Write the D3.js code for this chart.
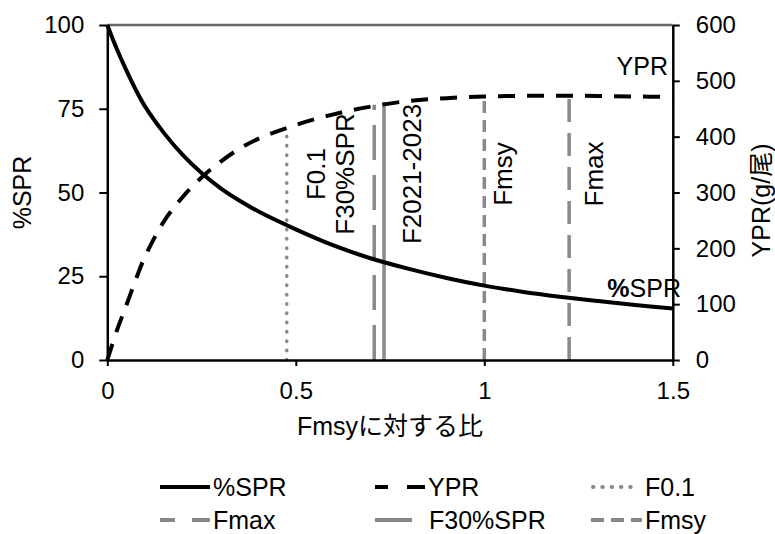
<!DOCTYPE html>
<html><head><meta charset="utf-8">
<script src="https://cdn.jsdelivr.net/npm/d3@7"></script>
<style>
body{margin:0;background:#fff;}
text{font-family:"Liberation Sans",Arial,"Noto Sans CJK JP",sans-serif;fill:#000;}
</style></head>
<body>
<script>
// ---- data ----
const fGrid      = [0, 0.025, 0.05, 0.075, 0.1, 0.15, 0.2, 0.25, 0.3, 0.35, 0.4, 0.5, 0.6, 0.7, 0.8, 0.9, 1.0, 1.1, 1.2, 1.3, 1.4, 1.5];
const sprValues  = [100, 92.9, 86.6, 80.8, 75.7, 67.8, 61.2, 55.8, 51.3, 47.6, 44.4, 39.0, 34.2, 30.3, 27.2, 24.5, 22.2, 20.4, 18.9, 17.6, 16.4, 15.4];
const yprValues  = [0, 52, 97, 143, 185, 248, 292, 327, 355, 378, 396, 421, 440, 454, 464, 469, 472, 473, 473.5, 473, 472, 471];
const refNames   = ["F0.1", "F30%SPR", "F2021-2023", "Fmsy", "Fmax"];
const refF       = [0.476, 0.708, 0.734, 1.0, 1.225];
const refTopYPR  = [413, 457, 462, 472, 474];
const xTicks     = [0, 0.5, 1, 1.5];
const leftTicks  = [0, 25, 50, 75, 100];
const rightTicks = [0, 100, 200, 300, 400, 500, 600];
const legendLabels = ["%SPR", "YPR", "F0.1", "Fmax", "F30%SPR", "Fmsy"];

// ---- drawing ----
const W = 775, H = 534;
const svg = d3.select("body").append("svg").attr("width", W).attr("height", H);
const x  = d3.scaleLinear().domain([0, 1.5]).range([107.3, 672.8]);
const yL = d3.scaleLinear().domain([0, 100]).range([360, 25]);
const yR = d3.scaleLinear().domain([0, 600]).range([360, 25]);
const gray = "#898989";

// top frame line
svg.append("line").attr("x1", x(0)).attr("x2", x(1.5)).attr("y1", yL(100)).attr("y2", yL(100))
  .attr("stroke", "#666").attr("stroke-width", 2.5);

// reference vertical lines
const refStyle = {
  "F0.1":       {dash: "0.5,8.8", cap: "round", w: 3.5},
  "F30%SPR":    {dash: "35,15", cap: "butt", w: 3.5},
  "F2021-2023": {dash: null, cap: "butt", w: 3.5},
  "Fmsy":       {dash: "12,7", cap: "butt", w: 3.5},
  "Fmax":       {dash: "23,11", cap: "butt", w: 3.5}
};
refNames.forEach((n, i) => {
  const s = refStyle[n];
  svg.append("line")
    .attr("x1", x(refF[i])).attr("x2", x(refF[i]))
    .attr("y1", yR(0)).attr("y2", yR(refTopYPR[i]))
    .attr("stroke", gray).attr("stroke-width", s.w)
    .attr("stroke-linecap", s.cap)
    .attr("stroke-dasharray", s.dash);
});

// curves
const sprLine = d3.line().x((d, i) => x(fGrid[i])).y(d => yL(d)).curve(d3.curveCatmullRom.alpha(0.5));
const yprLine = d3.line().x((d, i) => x(fGrid[i])).y(d => yR(d)).curve(d3.curveCatmullRom.alpha(0.5));
svg.append("path").attr("d", sprLine(sprValues)).attr("fill", "none")
  .attr("stroke", "#000").attr("stroke-width", 4);
svg.append("path").attr("d", yprLine(yprValues)).attr("fill", "none")
  .attr("stroke", "#000").attr("stroke-width", 4).attr("stroke-dasharray", "17,12");

// axes
function styleAxis(g) {
  g.selectAll(".domain").attr("stroke", "#000").attr("stroke-width", 2.5);
  g.selectAll(".tick line").attr("stroke", "#000").attr("stroke-width", 2);
  g.selectAll(".tick text").style("font-size", "24px").attr("fill", "#000")
    .style("font-family", "'Liberation Sans',Arial,sans-serif");
}
svg.append("g").attr("transform", `translate(${x(0)},0)`)
  .call(d3.axisLeft(yL).tickValues(leftTicks).tickSize(8).tickSizeOuter(0).tickPadding(15))
  .call(styleAxis);
svg.append("g").attr("transform", `translate(${x(1.5)},0)`)
  .call(d3.axisRight(yR).tickValues(rightTicks).tickSize(7).tickSizeOuter(0).tickPadding(16))
  .call(styleAxis);
svg.append("g").attr("transform", `translate(0,${yL(0)})`)
  .call(d3.axisBottom(x).tickValues(xTicks).tickFormat(d => String(d)).tickSize(6).tickSizeOuter(0).tickPadding(16))
  .call(styleAxis);

// axis titles
svg.append("text").attr("transform", `translate(31,${(yL(0) + yL(100)) / 2}) rotate(-90)`)
  .attr("text-anchor", "middle").style("font-size", "25px").text("%SPR");
svg.append("text").attr("transform", `translate(770,${(yL(0) + yL(100)) / 2 + 8}) rotate(-90)`)
  .attr("text-anchor", "middle").style("font-size", "25px").text("YPR(g/尾)");
svg.append("text").attr("x", (x(0) + x(1.5)) / 2).attr("y", 435)
  .attr("text-anchor", "middle").style("font-size", "25px").text("Fmsyに対する比");

// rotated reference-line labels
const labOffset = {"F0.1": 38, "F30%SPR": -20, "F2021-2023": 37, "Fmsy": 28, "Fmax": 34};
refNames.forEach((n, i) => {
  svg.append("text")
    .attr("transform", `translate(${x(refF[i]) + labOffset[n]},174) rotate(-90)`)
    .attr("text-anchor", "middle").style("font-size", "26px").text(n);
});

// curve labels
svg.append("text").attr("x", 668).attr("y", 75).attr("text-anchor", "end")
  .style("font-size", "25px").text("YPR");
const sprLab = svg.append("text").attr("x", 681).attr("y", 297).attr("text-anchor", "end")
  .style("font-size", "25px");
sprLab.append("tspan").attr("font-weight", "bold").text("%");
sprLab.append("tspan").text("SPR");

// legend
const legendStyle = {
  "%SPR":    {c: "#000", dash: null, cap: "butt", x1: 160, x2: 210, tx: 213},
  "YPR":     {c: "#000", dash: "13,19,18", cap: "butt", x1: 375, x2: 425, tx: 428},
  "F0.1":    {c: gray, dash: "0.5,8.8", cap: "round", x1: 593, x2: 632, tx: 645},
  "Fmax":    {c: gray, dash: "15,17,18", cap: "butt", x1: 160, x2: 210, tx: 213},
  "F30%SPR": {c: gray, dash: null, cap: "butt", x1: 375, x2: 412, tx: 429},
  "Fmsy":    {c: gray, dash: "13,7", cap: "butt", x1: 591, x2: 642, tx: 645}
};
const rowY = [487, 520];
legendLabels.forEach((n, i) => {
  const s = legendStyle[n];
  const yy = rowY[Math.floor(i / 3)];
  svg.append("line").attr("x1", s.x1).attr("x2", s.x2).attr("y1", yy).attr("y2", yy)
    .attr("stroke", s.c).attr("stroke-width", 4).attr("stroke-linecap", s.cap)
    .attr("stroke-dasharray", s.dash);
  svg.append("text").attr("x", s.tx).attr("y", yy + 9).style("font-size", "25px").text(n);
});
</script>
</body></html>
